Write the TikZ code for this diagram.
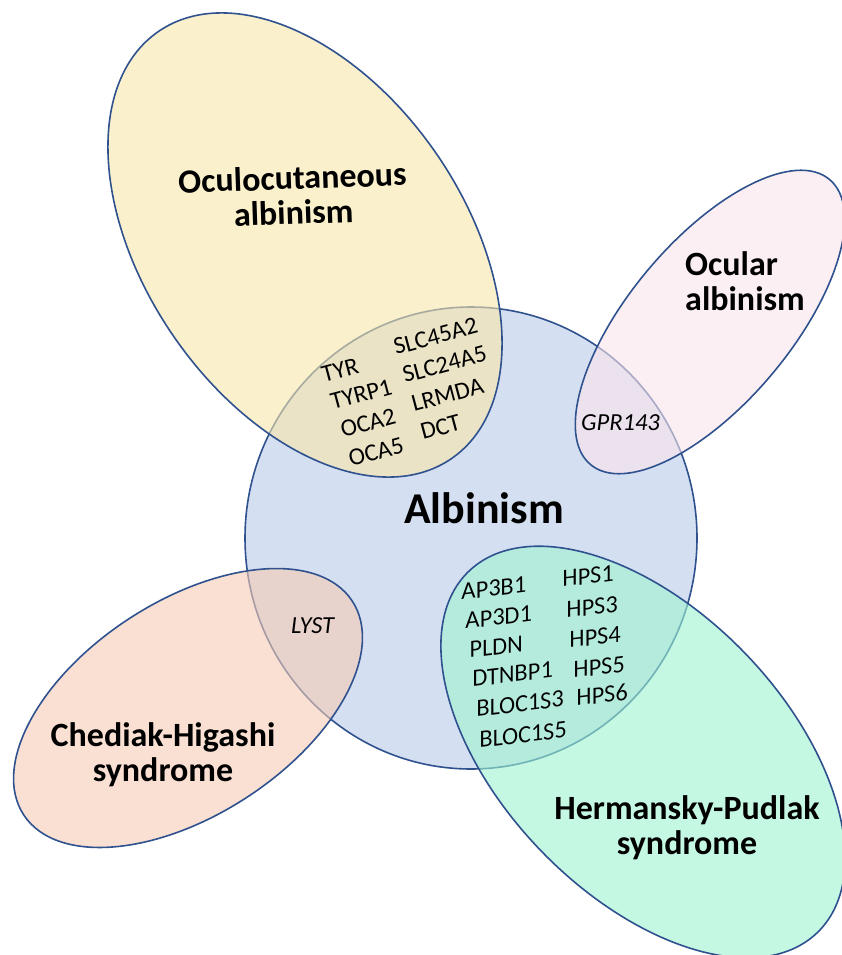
\documentclass[tikz,border=0pt]{standalone}
\usepackage{fontspec}
\setmainfont{Carlito}
\definecolor{edge}{RGB}{47,82,143}
\definecolor{albblue}{RGB}{213,223,242}
\definecolor{ocayel}{RGB}{248,230,170}
\definecolor{oapink}{RGB}{250,228,235}
\definecolor{chspeach}{RGB}{245,203,180}
\definecolor{hpsmint}{RGB}{158,243,208}
\tikzset{
  setline/.style={draw=edge, line width=1.6pt},
  satellite/.style={setline, fill opacity=0.6},
  lbl/.style={font=\fontsize{34}{35}\selectfont\bfseries, align=center, inner sep=0pt},
  gene/.style={font=\fontsize{24.5}{27}\selectfont, anchor=base west, inner sep=0pt},
  igene/.style={gene, font=\fontsize{24.5}{27}\selectfont\itshape},
}
\begin{document}
\begin{tikzpicture}[x=1pt,y=-1pt]
\useasboundingbox (0,0) rectangle (842,955);
% central set
\draw[setline, fill=albblue] (471,538) ellipse [x radius=226, y radius=231];
% satellites
\draw[satellite, fill=ocayel, rotate around={-55.6:(305,245)}] (305,245) ellipse [x radius=259, y radius=160];
\draw[satellite, fill=oapink, rotate around={50:(710,322)}] (710,322) ellipse [x radius=186, y radius=81];
\draw[satellite, fill=chspeach, rotate around={33:(188,708)}] (188,708) ellipse [x radius=196, y radius=107];
\draw[satellite, fill=hpsmint, rotate around={-46:(643,752)}] (643,752) ellipse [x radius=251, y radius=142];
% labels
\node[lbl, font=\fontsize{44}{48}\selectfont\bfseries] (alb) at (484,508) {Albinism};
\node[lbl, rotate=2] (oca) at (293,195) {Oculocutaneous\\albinism};
\node[lbl, align=left, anchor=west] (oa) at (685,281) {Ocular\\albinism};
\node[lbl] (chs) at (163,755) {Chediak-Higashi\\syndrome};
\node[lbl] (hps) at (687,828) {Hermansky-Pudlak\\syndrome};
% OCA genes
\node[gene, rotate=15] (g1) at (324,383) {TYR};
\node[gene, rotate=15] (g2) at (333,410) {TYRP1};
\node[gene, rotate=15] (g3) at (343,438) {OCA2};
\node[gene, rotate=15] (g4) at (351,467) {OCA5};
\node[gene, rotate=15] (g5) at (396,355) {SLC45A2};
\node[gene, rotate=15] (g6) at (405,383) {SLC24A5};
\node[gene, rotate=15] (g7) at (414,412) {LRMDA};
\node[gene, rotate=15] (g8) at (423,440) {DCT};
% OA / CHS genes
\node[igene] (g9) at (581,430) {GPR143};
\node[igene] (g10) at (291,633) {LYST};
% HPS genes
\node[igene, rotate=7] (h1) at (462,600) {AP3B1};
\node[igene, rotate=7] (h2) at (466,629) {AP3D1};
\node[igene, rotate=7] (h3) at (470,658) {PLDN};
\node[igene, rotate=7] (h4) at (473,687) {DTNBP1};
\node[igene, rotate=7] (h5) at (477,717) {BLOC1S3};
\node[igene, rotate=7] (h6) at (480,748) {BLOC1S5};
\node[igene, rotate=7] (h7) at (563,587) {HPS1};
\node[igene, rotate=7] (h8) at (567,618) {HPS3};
\node[igene, rotate=7] (h9) at (570,648) {HPS4};
\node[igene, rotate=7] (h10) at (574,678) {HPS5};
\node[igene, rotate=7] (h11) at (577,706) {HPS6};
\end{tikzpicture}
\end{document}
